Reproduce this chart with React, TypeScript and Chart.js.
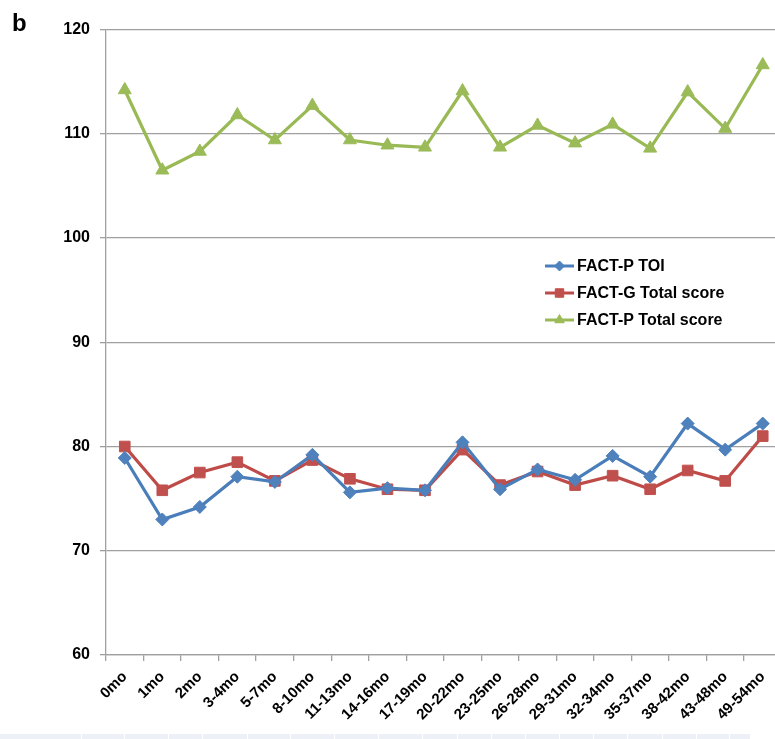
import React, { useEffect, useRef } from 'react';
import { Chart, registerables } from 'chart.js';
import { drawPoint } from 'chart.js/helpers';

Chart.register(...registerables);

// Follow-up time points
const categories = [
  '0mo', '1mo', '2mo', '3-4mo', '5-7mo', '8-10mo', '11-13mo', '14-16mo', '17-19mo',
  '20-22mo', '23-25mo', '26-28mo', '29-31mo', '32-34mo', '35-37mo', '38-42mo', '43-48mo', '49-54mo',
];

// Mean scores per time point
const factPToi = [78.9, 73.0, 74.2, 77.1, 76.6, 79.2, 75.6, 76.0, 75.8, 80.4, 75.9, 77.8, 76.8, 79.1, 77.1, 82.2, 79.7, 82.2];
const factGTotal = [80.0, 75.8, 77.5, 78.5, 76.7, 78.7, 76.9, 75.9, 75.8, 79.7, 76.3, 77.6, 76.3, 77.2, 75.9, 77.7, 76.7, 81.0];
const factPTotal = [114.2, 106.5, 108.3, 111.8, 109.4, 112.7, 109.4, 108.9, 108.7, 114.1, 108.7, 110.8, 109.1, 110.9, 108.6, 114.0, 110.5, 116.6];

const seriesLabels = ['FACT-P TOI', 'FACT-G Total score', 'FACT-P Total score'];
const yMin = 60;
const yMax = 120;
const yStep = 10;

// Cell edges of the light strip along the bottom edge
const stripEdges = [0, 81, 124, 168, 202, 247, 290, 334, 378, 422, 457, 491, 525, 559, 593, 627, 662, 696, 729, 750];

const FONT = '"Liberation Sans", Arial, Helvetica, sans-serif';
const GRID = '#a0a0a0';

// Legend drawn inside the plot: line segment + marker + label
const lineLegend = {
  id: 'lineLegend',
  afterDraw(chart: any) {
    const { ctx, chartArea } = chart;
    const x0 = chartArea.left + 439;
    const y0 = chartArea.top + 236.5;
    const rowGap = 27;
    ctx.save();
    chart.data.datasets.forEach((ds: any, i: number) => {
      const y = y0 + i * rowGap;
      ctx.strokeStyle = ds.borderColor;
      ctx.lineWidth = 3;
      ctx.beginPath();
      ctx.moveTo(x0, y);
      ctx.lineTo(x0 + 29, y);
      ctx.stroke();
      ctx.fillStyle = ds.pointBackgroundColor;
      ctx.strokeStyle = ds.pointBorderColor;
      ctx.lineWidth = 1;
      drawPoint(ctx, { pointStyle: ds.pointStyle, radius: ds.legendRadius, rotation: 0, borderWidth: 1 } as any, x0 + 14.5, y);
      ctx.fillStyle = '#000';
      ctx.font = `bold 16px ${FONT}`;
      ctx.textBaseline = 'middle';
      ctx.textAlign = 'left';
      ctx.fillText(ds.label, x0 + 32, y + 1);
    });
    ctx.restore();
  },
};

export default function App() {
  const canvasRef = useRef<HTMLCanvasElement | null>(null);

  useEffect(() => {
    const canvas = canvasRef.current;
    if (!canvas) return;
    const chart = new Chart(canvas, {
      type: 'line',
      data: {
        labels: categories,
        datasets: [
          {
            label: seriesLabels[0],
            data: factPToi,
            borderColor: '#4A7EBB',
            borderWidth: 3.2,
            pointStyle: 'rectRot',
            pointRadius: 6.5,
            pointBackgroundColor: '#4F81BD',
            pointBorderColor: '#4F81BD',
            pointBorderWidth: 1,
            tension: 0,
            legendRadius: 5,
          } as any,
          {
            label: seriesLabels[1],
            data: factGTotal,
            borderColor: '#BE4B48',
            borderWidth: 3.2,
            pointStyle: 'rect',
            pointRadius: 7.5,
            pointBackgroundColor: '#C0504D',
            pointBorderColor: '#C0504D',
            pointBorderWidth: 1,
            tension: 0,
            legendRadius: 6,
          } as any,
          {
            label: seriesLabels[2],
            data: factPTotal,
            borderColor: '#98B954',
            borderWidth: 3.2,
            pointStyle: 'triangle',
            pointRadius: 7.5,
            pointBackgroundColor: '#9BBB59',
            pointBorderColor: '#9BBB59',
            pointBorderWidth: 1,
            tension: 0,
            legendRadius: 5.5,
          } as any,
        ],
      },
      options: {
        responsive: false,
        maintainAspectRatio: false,
        animation: false,
        events: [],
        layout: { padding: { top: 29.5, right: 0, left: 0, bottom: 0 } },
        plugins: {
          legend: { display: false },
          tooltip: { enabled: false },
        },
        scales: {
          x: {
            type: 'category',
            offset: true,
            afterFit(scale: any) {
              scale.height = 84;
            },
            grid: {
              offset: true,
              drawOnChartArea: false,
              drawTicks: true,
              tickLength: 6,
              color: GRID,
              lineWidth: 1.3,
            },
            border: { color: GRID, width: 1.3 },
            ticks: {
              autoSkip: false,
              minRotation: 45,
              maxRotation: 45,
              padding: 7,
              color: '#000',
              font: { family: FONT, size: 15, weight: 'bold' },
            },
          },
          y: {
            min: yMin,
            max: yMax,
            afterFit(scale: any) {
              scale.width = 106;
            },
            grid: {
              color: GRID,
              lineWidth: 1.3,
              tickLength: 6,
            },
            border: { color: GRID, width: 1.3 },
            ticks: {
              stepSize: yStep,
              padding: 10,
              color: '#000',
              font: { family: FONT, size: 16, weight: 'bold' },
            },
          },
        },
      },
      plugins: [lineLegend],
    });
    return () => chart.destroy();
  }, []);

  const cells = stripEdges.slice(0, -1).map((x, i) => (
    <div
      key={i}
      style={{
        position: 'absolute',
        left: x + (i === 0 ? 0 : 1),
        top: 734,
        width: stripEdges[i + 1] - x - (i === 0 ? 0 : 1),
        height: 5,
        background: '#edf1f7',
      }}
    />
  ));

  return (
    <div
      style={{
        position: 'fixed',
        left: 0,
        top: 0,
        width: 775,
        height: 739,
        overflow: 'hidden',
        background: '#fff',
      }}
    >
      <canvas ref={canvasRef} width={790} height={739} style={{ position: 'absolute', left: 0, top: 0 }} />
      <div
        style={{
          position: 'absolute',
          left: 12,
          top: 8,
          fontFamily: FONT,
          fontWeight: 'bold',
          fontSize: 24,
          lineHeight: '30px',
          color: '#000',
        }}
      >
        b
      </div>
      {cells}
    </div>
  );
}
